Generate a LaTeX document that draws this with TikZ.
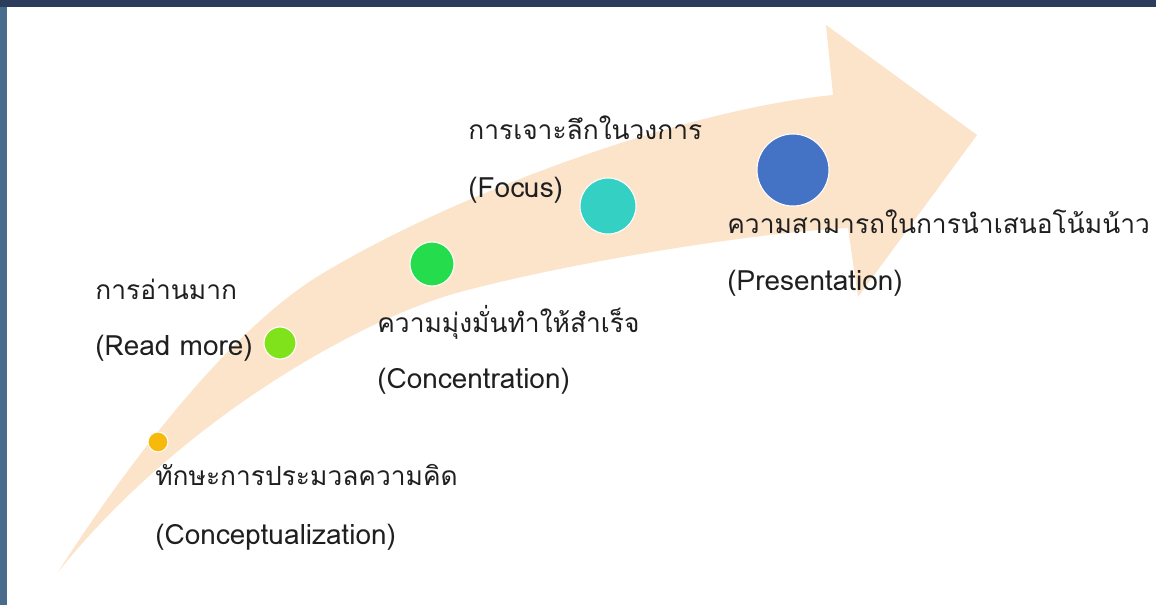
\documentclass[tikz,border=0pt]{standalone}
\usepackage{fontspec}
\newfontfamily\thaifont[Script=Thai]{Loma}

\definecolor{peach}{RGB}{252,228,202}
\definecolor{frameside}{RGB}{74,108,140}
\definecolor{frametop}{RGB}{44,60,92}
\definecolor{dotA}{RGB}{247,186,10}
\definecolor{dotB}{RGB}{128,226,26}
\definecolor{dotC}{RGB}{36,220,76}
\definecolor{dotD}{RGB}{52,208,196}
\definecolor{dotE}{RGB}{68,114,196}

\tikzset{
  lbl/.style={anchor=west, inner sep=0pt, text=black!88,
    font=\thaifont\fontsize{15}{18}\selectfont},
  enlbl/.style={lbl, font=\thaifont\fontsize{15.9}{18}\selectfont},
  stepdot/.style={circle, draw=white, line width=0.6pt, inner sep=0pt}
}

\begin{document}
\begin{tikzpicture}[x=0.02cm,y=-0.02cm]
\useasboundingbox (0,0) rectangle (1156,605);
\fill[white] (0,0) rectangle (1156,605);
\fill[frameside] (0,0) rectangle (7,605);
\fill[frametop] (0,0) rectangle (1156,7);

% curved arrow
\fill[peach] (58,572) .. controls (130,460) and (230,330) .. (320,275)
  .. controls (450,196) and (680,110) .. (833,95)
  -- (826,25) -- (977,135) -- (858,297) -- (848,228)
  .. controls (740,234) and (560,265) .. (460,292)
  .. controls (360,319) and (180,420) .. (58,572) -- cycle;

% dots
\foreach \x/\y/\r/\c/\n in {158/442/10/dotA/1, 280/343/16/dotB/2,
                            432/264/22/dotC/3, 608/206/28/dotD/4,
                            793/170/36/dotE/5}
    \node[stepdot, fill=\c, minimum size=\r*0.04cm] (dot\n) at (\x,\y) {};

% labels
\node[lbl] (th1) at (155,475) {ทักษะการประมวลความคิด};
\node[enlbl] (en1) at (155,537) {(Conceptualization)};
\node[lbl] (th2) at (95,289) {การอ่านมาก};
\node[enlbl] (en2) at (95,348) {(Read more)};
\node[lbl] (th3) at (377,322) {ความมุ่งมั่นทำให้สำเร็จ};
\node[enlbl] (en3) at (377,381) {(Concentration)};
\node[lbl] (th4) at (468,128) {การเจาะลึกในวงการ};
\node[enlbl] (en4) at (468,190) {(Focus)};
\node[lbl] (th5) at (727,222) {ความสามารถในการนำเสนอโน้มน้าว};
\node[enlbl] (en5) at (727,283) {(Presentation)};
\end{tikzpicture}
\end{document}
